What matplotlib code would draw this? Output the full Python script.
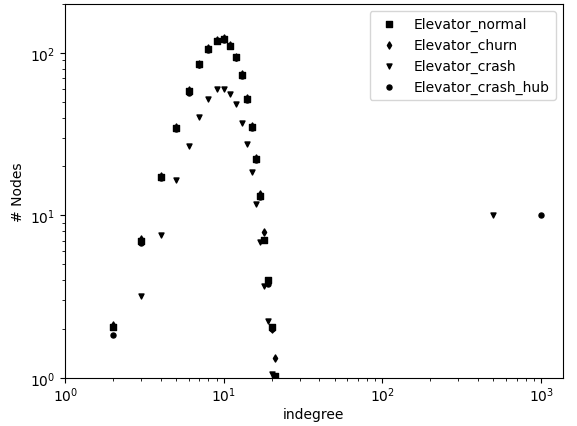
import matplotlib
matplotlib.use("Agg")
import matplotlib.pyplot as plt

# indegree distribution for the four runs
degree = list(range(2, 22))
normal = [2.05, 7.0, 17.3, 34.5, 58, 85, 106, 119, 122, 111, 94, 73, 52, 35, 22.3, 13.2, 7.1, 4.0, 2.05, 1.03]
churn = [2.12, 7.2, 17.6, 35, 59, 86, 108, 120, 124, 112, 95, 74, 53, 35.5, 22.5, 13.6, 7.9, 3.9, 2.0, 1.33]
hub = [1.83, 6.8, 17.0, 34, 57, 84, 105, 118, 121, 110, 93, 72, 51, 34.5, 22, 13.0, 7.1, 3.8, 2.0, 1.0] + [10]
hub_degree = degree + [1000]

crash_degree = list(range(3, 21)) + [500]
crash = [3.2, 7.55, 16.5, 26.9, 40.2, 52.3, 60, 60, 56, 48.8, 36.9, 27.5, 18.4, 11.7, 6.84, 3.65, 2.24, 1.05, 10]

fig, ax = plt.subplots(figsize=(5.77, 4.27), dpi=100)
fig.subplots_adjust(left=0.113, right=0.975, bottom=0.113, top=0.988)

ax.scatter(degree, normal, marker='s', s=13, color='black', label='Elevator_normal')
ax.scatter(degree, churn, marker='d', s=13, color='black', label='Elevator_churn')
ax.scatter(crash_degree, crash, marker='v', s=13, color='black', label='Elevator_crash')
ax.scatter(hub_degree, hub, marker='o', s=13, color='black', label='Elevator_crash_hub')

ax.set_xscale('log')
ax.set_yscale('log')
ax.set_xlim(1, 1365)
ax.set_ylim(1, 200)
ax.tick_params(axis='x', pad=2)
ax.set_xlabel('indegree', labelpad=2)
ax.set_ylabel('# Nodes')
ax.legend(loc='upper right')

plt.savefig('out.png', dpi=100)
plt.close()
